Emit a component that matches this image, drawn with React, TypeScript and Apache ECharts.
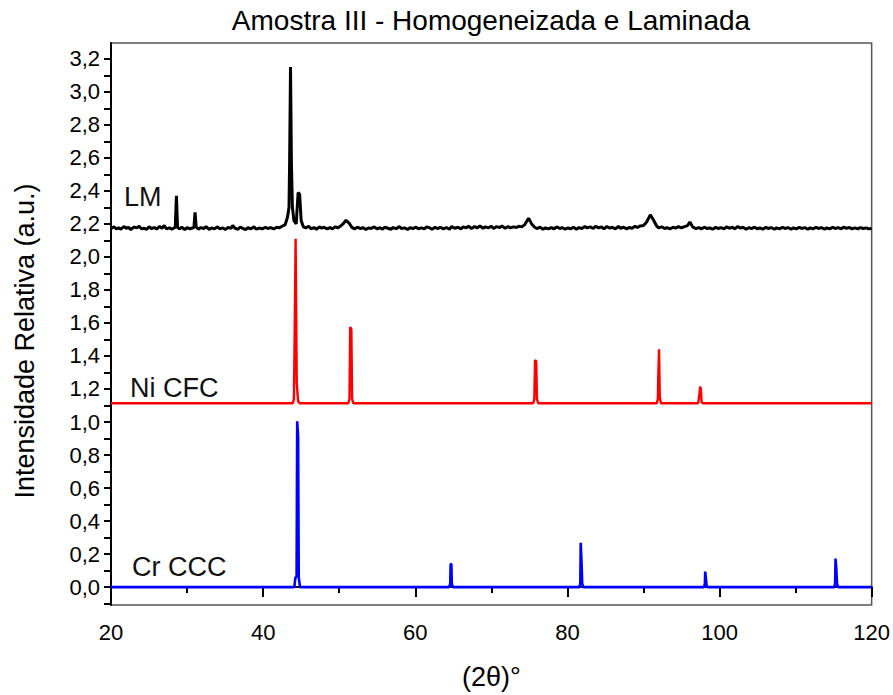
import React, { useEffect, useRef } from "react";
import * as echarts from "echarts";

const FONT = "'Liberation Sans', Arial, sans-serif";

const titleText = "Amostra III - Homogeneizada e Laminada";
const xAxisName = "(2θ)°";
const yAxisName = "Intensidade Relativa (a.u.)";
const xTicks = [20, 40, 60, 80, 100, 120];
const yLabelValues = [0, 0.2, 0.4, 0.6, 0.8, 1.0, 1.2, 1.4, 1.6, 1.8, 2.0, 2.2, 2.4, 2.6, 2.8, 3.0, 3.2];
const yMinorValues = [-0.1, 0.1, 0.3, 0.5, 0.7, 0.9, 1.1, 1.3, 1.5, 1.7, 1.9, 2.1, 2.3, 2.5, 2.7, 2.9, 3.1];

const seriesNames = ["LM", "Ni CFC", "Cr CCC"];

const lmPoints: [number, number][] = [
  [20, 2.172], [20.4, 2.182], [20.7, 2.17], [21, 2.176], [21.3, 2.168], [21.7, 2.184], [22, 2.174], [22.3, 2.179],
  [22.6, 2.166], [23, 2.181], [23.4, 2.176], [23.7, 2.186], [24, 2.17], [24.3, 2.174], [24.7, 2.168], [25, 2.183],
  [25.3, 2.172], [25.7, 2.178], [26, 2.169], [26.4, 2.185], [26.7, 2.174], [27, 2.19], [27.3, 2.17], [27.7, 2.176],
  [28, 2.168], [28.45, 2.18], [28.6, 2.37], [28.75, 2.178], [29, 2.17], [29.3, 2.18], [29.7, 2.166], [30, 2.177],
  [30.4, 2.171], [30.9, 2.178], [31.05, 2.27], [31.2, 2.18], [31.5, 2.168], [31.8, 2.178], [32.2, 2.172], [32.5, 2.183],
  [32.9, 2.167], [33.2, 2.176], [33.6, 2.171], [34, 2.182], [34.3, 2.17], [34.7, 2.176], [35, 2.166], [35.4, 2.178],
  [35.8, 2.174], [36, 2.19], [36.3, 2.174], [36.7, 2.168], [37, 2.18], [37.4, 2.172], [37.7, 2.165], [38, 2.177],
  [38.4, 2.171], [38.8, 2.182], [39.1, 2.168], [39.5, 2.175], [39.9, 2.17], [40.3, 2.18], [40.6, 2.172], [41, 2.178],
  [41.4, 2.17], [41.8, 2.18], [42.1, 2.176], [42.5, 2.186], [42.9, 2.196], [43.2, 2.24], [43.4, 2.3], [43.48, 2.57],
  [43.6, 3.15], [43.72, 2.57], [43.85, 2.3], [44.05, 2.22], [44.35, 2.2], [44.6, 2.39], [44.8, 2.38], [45.0, 2.22],
  [45.3, 2.182], [45.6, 2.176], [46, 2.186], [46.3, 2.17], [46.7, 2.178], [47, 2.168], [47.4, 2.182], [47.7, 2.174],
  [48, 2.18], [48.4, 2.17], [48.8, 2.178], [49.1, 2.17], [49.5, 2.183], [49.8, 2.176], [50.2, 2.188], [50.5, 2.2],
  [50.9, 2.222], [51.3, 2.205], [51.7, 2.178], [52, 2.17], [52.4, 2.18], [52.8, 2.172], [53.1, 2.178], [53.5, 2.166],
  [53.9, 2.176], [54.2, 2.172], [54.6, 2.182], [55, 2.17], [55.3, 2.177], [55.7, 2.168], [56, 2.18], [56.4, 2.174],
  [56.8, 2.168], [57.1, 2.178], [57.5, 2.171], [57.9, 2.184], [58.2, 2.172], [58.6, 2.176], [59, 2.166], [59.3, 2.178],
  [59.7, 2.172], [60.1, 2.18], [60.4, 2.17], [60.8, 2.176], [61.2, 2.17], [61.5, 2.182], [61.9, 2.176], [62.2, 2.168],
  [62.6, 2.179], [63, 2.172], [63.3, 2.18], [63.7, 2.17], [64.1, 2.178], [64.5, 2.168], [64.8, 2.184], [65.2, 2.174],
  [65.6, 2.18], [66, 2.17], [66.3, 2.182], [66.7, 2.176], [67, 2.186], [67.4, 2.172], [67.8, 2.184], [68.1, 2.176],
  [68.5, 2.188], [68.9, 2.174], [69.2, 2.182], [69.6, 2.176], [70, 2.186], [70.3, 2.172], [70.7, 2.184], [71.1, 2.178],
  [71.4, 2.188], [71.8, 2.174], [72.2, 2.184], [72.5, 2.176], [72.9, 2.182], [73.3, 2.178], [73.6, 2.186], [74, 2.182],
  [74.4, 2.196], [74.9, 2.235], [75.3, 2.2], [75.7, 2.18], [76, 2.172], [76.4, 2.18], [76.8, 2.168], [77.1, 2.176],
  [77.5, 2.17], [77.9, 2.178], [78.2, 2.17], [78.6, 2.182], [79, 2.172], [79.3, 2.178], [79.7, 2.168], [80.1, 2.176],
  [80.4, 2.17], [80.8, 2.18], [81.2, 2.168], [81.5, 2.178], [81.9, 2.172], [82.3, 2.184], [82.6, 2.176], [83, 2.182],
  [83.4, 2.172], [83.7, 2.186], [84.1, 2.176], [84.5, 2.182], [84.8, 2.17], [85.2, 2.184], [85.6, 2.174], [85.9, 2.18],
  [86.3, 2.17], [86.7, 2.184], [87, 2.174], [87.4, 2.18], [87.8, 2.17], [88.1, 2.178], [88.5, 2.174], [88.9, 2.186],
  [89.2, 2.178], [89.6, 2.188], [90, 2.19], [90.4, 2.21], [90.9, 2.255], [91.3, 2.225], [91.7, 2.19], [92, 2.176],
  [92.4, 2.182], [92.8, 2.172], [93.1, 2.178], [93.5, 2.17], [93.9, 2.18], [94.2, 2.174], [94.6, 2.184], [95, 2.176],
  [95.4, 2.184], [95.8, 2.19], [96.1, 2.212], [96.5, 2.18], [96.9, 2.172], [97.3, 2.178], [97.6, 2.17], [98, 2.18],
  [98.4, 2.172], [98.7, 2.176], [99.1, 2.168], [99.5, 2.18], [99.8, 2.172], [100.2, 2.178], [100.6, 2.17], [100.9, 2.182],
  [101.3, 2.174], [101.7, 2.18], [102, 2.17], [102.4, 2.184], [102.8, 2.174], [103.1, 2.18], [103.5, 2.168], [103.9, 2.178],
  [104.2, 2.172], [104.6, 2.18], [105, 2.17], [105.3, 2.176], [105.7, 2.168], [106.1, 2.18], [106.4, 2.172], [106.8, 2.178],
  [107.2, 2.168], [107.5, 2.176], [107.9, 2.17], [108.3, 2.18], [108.6, 2.172], [109, 2.178], [109.4, 2.168], [109.7, 2.176],
  [110.1, 2.17], [110.5, 2.18], [110.8, 2.172], [111.2, 2.178], [111.6, 2.168], [111.9, 2.176], [112.3, 2.17], [112.7, 2.18],
  [113, 2.172], [113.4, 2.178], [113.8, 2.168], [114.1, 2.176], [114.5, 2.17], [114.9, 2.18], [115.2, 2.172], [115.6, 2.178],
  [116, 2.17], [116.3, 2.18], [116.7, 2.174], [117.1, 2.178], [117.4, 2.17], [117.8, 2.176], [118.2, 2.17], [118.5, 2.178],
  [118.9, 2.172], [119.3, 2.176], [119.6, 2.17], [120, 2.172],
];

const niPoints: [number, number][] = [
  [20, 1.114], [43.9, 1.114], [44.05, 1.14], [44.15, 1.556], [44.27, 2.11], [44.42, 1.235], [44.6, 1.125], [44.8, 1.114],
  [51.2, 1.114], [51.35, 1.14], [51.45, 1.576], [51.6, 1.56], [51.7, 1.14], [51.85, 1.114],
  [75.5, 1.114], [75.65, 1.14], [75.75, 1.375], [75.9, 1.37], [76.0, 1.14], [76.15, 1.114],
  [91.75, 1.114], [91.9, 1.14], [91.95, 1.275], [92.05, 1.44], [92.15, 1.15], [92.3, 1.114],
  [97.2, 1.114], [97.35, 1.165], [97.45, 1.215], [97.55, 1.2], [97.65, 1.12], [97.8, 1.114],
  [120, 1.114],
];

const crPoints: [number, number][] = [
  [20, 0], [44.1, 0], [44.25, 0.06], [44.4, 0.06], [44.48, 1.004], [44.6, 0.914], [44.68, 0.06], [44.85, 0],
  [64.45, 0], [64.6, 0.02], [64.65, 0.14], [64.75, 0.14], [64.8, 0.02], [64.95, 0],
  [81.55, 0], [81.7, 0.02], [81.75, 0.269], [81.85, 0.165], [81.95, 0.02], [82.1, 0],
  [97.95, 0], [98.08, 0.02], [98.12, 0.094], [98.22, 0.05], [98.3, 0.01], [98.4, 0],
  [115.1, 0], [115.2, 0.02], [115.25, 0.173], [115.35, 0.116], [115.45, 0.02], [115.6, 0],
  [120, 0],
];

const fmt = (v: number) => v.toFixed(1).replace(".", ",");

export default function App() {
  const ref = useRef<HTMLDivElement>(null);
  useEffect(() => {
    if (!ref.current) return;
    const chart = echarts.init(ref.current, null, { renderer: "svg" });
    const axisText = { color: "#000", fontSize: 22, fontFamily: FONT };
    chart.setOption({
      animation: false,
      backgroundColor: "#fff",
      title: {
        text: titleText,
        left: 491,
        top: 6,
        textAlign: "center",
        padding: 0,
        textStyle: { color: "#000", fontSize: 28, fontWeight: "normal", fontFamily: FONT },
      },
      grid: {
        left: 111,
        right: 21,
        top: 43,
        bottom: 87,
        show: true,
        borderColor: "#555",
        borderWidth: 1.5,
        backgroundColor: "transparent",
      },
      xAxis: {
        type: "value",
        min: 20,
        max: 120,
        interval: 20,
        name: xAxisName,
        nameLocation: "middle",
        nameGap: 58,
        nameTextStyle: { color: "#000", fontSize: 27, fontFamily: FONT },
        axisLine: { show: true, lineStyle: { color: "#000", width: 2 } },
        axisTick: { show: true, length: 10, lineStyle: { color: "#000", width: 2 } },
        minorTick: { show: true, splitNumber: 2, length: 6, lineStyle: { color: "#000", width: 2 } },
        axisLabel: { ...axisText, margin: 16, customValues: xTicks, formatter: (v: number) => String(v) },
        splitLine: { show: false },
        minorSplitLine: { show: false },
      },
      yAxis: [
        {
          type: "value",
          min: -0.1085,
          max: 3.296,
          axisLine: { show: true, lineStyle: { color: "#000", width: 2 } },
          axisTick: { show: true, length: 7, customValues: yLabelValues, lineStyle: { color: "#000", width: 2 } },
          axisLabel: { ...axisText, margin: 11, customValues: yLabelValues, formatter: (v: number) => fmt(v) },
          splitLine: { show: false },
        },
        {
          type: "value",
          position: "left",
          min: -0.1085,
          max: 3.296,
          axisLine: { show: false },
          axisTick: { show: true, length: 7, customValues: yMinorValues, lineStyle: { color: "#000", width: 2 } },
          axisLabel: { show: false },
          splitLine: { show: false },
        },
      ],
      series: [
        {
          name: seriesNames[0],
          type: "line",
          data: lmPoints,
          showSymbol: false,
          lineStyle: { color: "#000", width: 3 },
          z: 3,
        },
        {
          name: seriesNames[1],
          type: "line",
          data: niPoints,
          showSymbol: false,
          lineStyle: { color: "#ff0000", width: 2.4 },
          z: 2,
        },
        {
          name: seriesNames[2],
          type: "line",
          data: crPoints,
          showSymbol: false,
          lineStyle: { color: "#0000ff", width: 2.6 },
          z: 2,
        },
      ],
      graphic: [
        {
          type: "text",
          x: 25,
          y: 341,
          rotation: Math.PI / 2,
          style: { text: yAxisName, fill: "#000", fontSize: 27, fontFamily: FONT, align: "center", verticalAlign: "middle" },
        },
        {
          type: "text",
          x: 124,
          y: 197,
          style: { text: seriesNames[0], fill: "#111", fontSize: 27, fontFamily: FONT, align: "left", verticalAlign: "middle" },
        },
        {
          type: "text",
          x: 130,
          y: 388,
          style: { text: seriesNames[1], fill: "#111", fontSize: 27, fontFamily: FONT, align: "left", verticalAlign: "middle" },
        },
        {
          type: "text",
          x: 132,
          y: 567,
          style: { text: seriesNames[2], fill: "#111", fontSize: 27, fontFamily: FONT, align: "left", verticalAlign: "middle" },
        },
      ],
    });
    return () => chart.dispose();
  }, []);
  return (
    <div
      ref={ref}
      style={{ position: "absolute", left: 0, top: 0, width: 893, height: 695, background: "#fff" }}
    />
  );
}
